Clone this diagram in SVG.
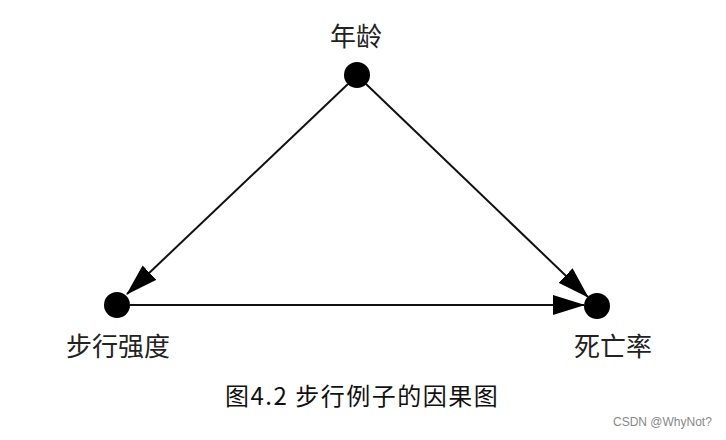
<svg xmlns="http://www.w3.org/2000/svg" width="726" height="440" viewBox="0 0 726 440">
<style>
.lbl{font-family:"Noto Sans CJK SC","Liberation Serif",serif;font-size:26px;fill:#222;text-anchor:middle}
.cap{font-family:"Noto Sans CJK SC","Liberation Sans",sans-serif;font-size:24px;letter-spacing:1.5px;fill:#111}
.wm{font-family:"Liberation Sans",Arial,sans-serif;font-size:12px;fill:#888}
.edge{stroke:#111;stroke-width:2;fill:none}
.dot{fill:#000}
</style>
<defs>
<marker id="ah" viewBox="0 0 32 20" refX="31" refY="10" markerWidth="32" markerHeight="20" markerUnits="userSpaceOnUse" orient="auto">
<path d="M0,0 L32,10 L0,20 Z" fill="#000"/>
</marker>
</defs>
<rect width="726" height="440" fill="#fff"/>
<g id="connectors">
<line class="edge" x1="348" y1="84" x2="127" y2="294" marker-end="url(#ah)"/>
<line class="edge" x1="366" y1="84" x2="588" y2="297" marker-end="url(#ah)"/>
<line class="edge" x1="130" y1="305" x2="584" y2="305" marker-end="url(#ah)"/>
</g>
<g id="node-age">
<circle class="dot" cx="357" cy="75" r="13"/>
<text class="lbl" x="356" y="46">年龄</text>
</g>
<g id="node-walk">
<circle class="dot" cx="117" cy="305" r="13"/>
<text class="lbl" x="118" y="356">步行强度</text>
</g>
<g id="node-death">
<circle class="dot" cx="597" cy="306" r="13"/>
<text class="lbl" x="613" y="356">死亡率</text>
</g>
<text class="cap" x="225" y="405">图4.2 步行例子的因果图</text>
<text class="wm" x="613" y="426">CSDN @WhyNot?</text>
</svg>
